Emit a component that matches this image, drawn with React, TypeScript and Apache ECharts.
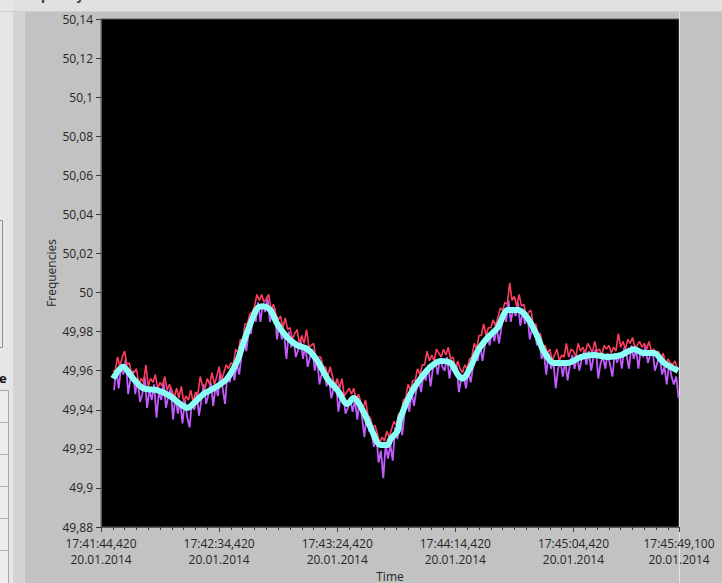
import React, { useEffect, useRef } from "react";
import * as echarts from "echarts";

// ---- axis / label data ----
const chartTitle = "Frequency Chart";
const startClockSec = 17 * 3600 + 41 * 60 + 44.42; // 17:41:44,420
const dateLabel = "20.01.2014";
const timeSpanSec = 244.68; // ends 17:45:49,100
const majorStepSec = 50;
const freqMin = 49.88;
const freqMax = 50.14;
const freqStep = 0.02;
const xAxisName = "Time";
const yAxisName = "Frequencies";

// ---- smoothed (cyan) trace ----
const cyanTimeSec = [
  5.1, 9.3, 13.6, 17.8, 23.7, 29.3, 33.5, 36.5, 39.0, 43.3,
  49.2, 53.4, 57.7, 60.2, 63.2, 66.2, 68.7, 71.7, 74.6, 78.9,
  83.1, 87.4, 91.6, 95.8, 100.1, 104.3, 106.9, 111.1, 114.1, 118.3,
  121.3, 122.6, 125.5, 126.8, 131.0, 135.3, 139.5, 143.8, 148.0, 151.0,
  153.1, 156.5, 159.4, 163.7, 167.9, 172.2, 176.4, 180.6, 184.9, 187.4,
  191.7, 197.6, 203.1, 208.6, 214.6, 220.1, 225.6, 229.8, 234.1, 238.3,
  244.3,
];
const cyanFreq = [
  49.956, 49.962, 49.956, 49.951, 49.95, 49.947, 49.943, 49.941, 49.943, 49.948,
  49.952, 49.956, 49.965, 49.974, 49.984, 49.992, 49.993, 49.991, 49.984, 49.977,
  49.973, 49.971, 49.965, 49.956, 49.95, 49.943, 49.946, 49.939, 49.931, 49.922,
  49.922, 49.925, 49.929, 49.936, 49.948, 49.956, 49.962, 49.965, 49.964, 49.958,
  49.956, 49.962, 49.97, 49.977, 49.982, 49.991, 49.991, 49.987, 49.977, 49.97,
  49.964, 49.964, 49.967, 49.968, 49.967, 49.968, 49.971, 49.969, 49.969, 49.964,
  49.96,
];

// ---- raw noisy traces, one sample per second ----
const sampleStepSec = 1;
const redStartSec = 5;
const redFreq = [
  49.960, 49.960, 49.967, 49.962, 49.967, 49.970, 49.963, 49.964, 49.958, 49.959,
  49.961, 49.953, 49.956, 49.954, 49.963, 49.952, 49.956, 49.954, 49.958, 49.951,
  49.954, 49.952, 49.957, 49.950, 49.953, 49.950, 49.946, 49.951, 49.946, 49.952,
  49.944, 49.947, 49.945, 49.950, 49.944, 49.949, 49.948, 49.957, 49.952, 49.951,
  49.956, 49.953, 49.959, 49.953, 49.957, 49.962, 49.955, 49.959, 49.963, 49.961,
  49.964, 49.963, 49.971, 49.969, 49.976, 49.975, 49.984, 49.984, 49.989, 49.990,
  49.993, 49.999, 49.996, 49.999, 49.995, 49.997, 49.999, 49.991, 49.994, 49.989,
  49.986, 49.988, 49.982, 49.987, 49.981, 49.982, 49.976, 49.979, 49.981, 49.974,
  49.978, 49.974, 49.981, 49.972, 49.973, 49.974, 49.966, 49.967, 49.967, 49.962,
  49.962, 49.957, 49.962, 49.957, 49.952, 49.956, 49.951, 49.956, 49.947, 49.949,
  49.951, 49.948, 49.951, 49.945, 49.948, 49.944, 49.941, 49.945, 49.937, 49.936,
  49.931, 49.932, 49.928, 49.923, 49.926, 49.924, 49.929, 49.926, 49.930, 49.934,
  49.932, 49.938, 49.937, 49.945, 49.946, 49.953, 49.950, 49.955, 49.955, 49.961,
  49.958, 49.963, 49.963, 49.970, 49.965, 49.968, 49.965, 49.971, 49.969, 49.967,
  49.971, 49.968, 49.972, 49.966, 49.967, 49.961, 49.965, 49.961, 49.959, 49.963,
  49.961, 49.966, 49.967, 49.974, 49.971, 49.978, 49.978, 49.984, 49.978, 49.982,
  49.982, 49.986, 49.983, 49.987, 49.992, 49.991, 49.995, 49.994, 50.005, 49.996,
  49.998, 49.993, 49.999, 49.993, 49.994, 49.988, 49.990, 49.991, 49.983, 49.984,
  49.979, 49.979, 49.972, 49.973, 49.969, 49.971, 49.965, 49.968, 49.971, 49.965,
  49.968, 49.967, 49.974, 49.967, 49.971, 49.970, 49.967, 49.974, 49.970, 49.972,
  49.969, 49.974, 49.972, 49.969, 49.975, 49.970, 49.971, 49.968, 49.973, 49.971,
  49.973, 49.969, 49.972, 49.970, 49.979, 49.972, 49.975, 49.971, 49.976, 49.974,
  49.977, 49.972, 49.973, 49.975, 49.972, 49.974, 49.971, 49.975, 49.970, 49.971,
  49.969, 49.970, 49.966, 49.969, 49.963, 49.966, 49.964, 49.963, 49.965, 49.961,
];
const purpleStartSec = 5.5;
const purpleFreq = [
  49.950, 49.961, 49.951, 49.962, 49.958, 49.966, 49.948, 49.956, 49.960, 49.948,
  49.956, 49.944, 49.948, 49.957, 49.941, 49.950, 49.945, 49.953, 49.936, 49.949,
  49.945, 49.954, 49.941, 49.947, 49.951, 49.935, 49.947, 49.938, 49.944, 49.933,
  49.945, 49.936, 49.931, 49.944, 49.940, 49.948, 49.937, 49.945, 49.953, 49.943,
  49.948, 49.954, 49.942, 49.952, 49.947, 49.959, 49.951, 49.943, 49.958, 49.954,
  49.962, 49.955, 49.964, 49.958, 49.968, 49.978, 49.970, 49.980, 49.979, 49.989,
  49.985, 49.995, 49.985, 49.994, 49.990, 49.997, 49.985, 49.989, 49.992, 49.976,
  49.985, 49.976, 49.979, 49.966, 49.980, 49.972, 49.976, 49.967, 49.971, 49.976,
  49.966, 49.973, 49.962, 49.967, 49.971, 49.960, 49.966, 49.953, 49.959, 49.961,
  49.952, 49.956, 49.946, 49.951, 49.954, 49.939, 49.947, 49.949, 49.938, 49.941,
  49.946, 49.939, 49.945, 49.935, 49.945, 49.936, 49.926, 49.938, 49.929, 49.929,
  49.921, 49.928, 49.913, 49.919, 49.905, 49.922, 49.915, 49.922, 49.914, 49.931,
  49.925, 49.935, 49.927, 49.938, 49.945, 49.939, 49.949, 49.942, 49.950, 49.956,
  49.949, 49.958, 49.955, 49.963, 49.952, 49.961, 49.966, 49.958, 49.966, 49.962,
  49.960, 49.967, 49.956, 49.964, 49.959, 49.963, 49.949, 49.956, 49.958, 49.951,
  49.960, 49.954, 49.962, 49.970, 49.965, 49.973, 49.965, 49.973, 49.979, 49.973,
  49.981, 49.975, 49.982, 49.974, 49.982, 49.990, 49.985, 49.996, 49.985, 49.992,
  49.988, 49.995, 49.983, 49.990, 49.984, 49.989, 49.976, 49.982, 49.983, 49.973,
  49.977, 49.966, 49.969, 49.958, 49.969, 49.961, 49.965, 49.951, 49.961, 49.965,
  49.957, 49.965, 49.955, 49.963, 49.968, 49.961, 49.968, 49.960, 49.966, 49.970,
  49.963, 49.970, 49.960, 49.967, 49.971, 49.956, 49.964, 49.967, 49.961, 49.969,
  49.963, 49.957, 49.969, 49.964, 49.969, 49.961, 49.972, 49.968, 49.961, 49.973,
  49.966, 49.971, 49.961, 49.971, 49.967, 49.973, 49.964, 49.968, 49.970, 49.960,
  49.964, 49.968, 49.958, 49.962, 49.953, 49.964, 49.957, 49.953, 49.957, 49.946,
];

// ---- helpers ----
const pad = (n: number, w: number) => String(n).padStart(w, "0");
function clockLabel(sec: number): string {
  const totalMs = Math.round((startClockSec + sec) * 1000);
  const h = Math.floor(totalMs / 3600000);
  const m = Math.floor((totalMs % 3600000) / 60000);
  const s = Math.floor((totalMs % 60000) / 1000);
  const ms = totalMs % 1000;
  return `${pad(h, 2)}:${pad(m, 2)}:${pad(s, 2)},${pad(ms, 3)}\n${dateLabel}`;
}
function freqLabel(v: number): string {
  return String(Math.round(v * 100) / 100).replace(".", ",");
}
const sampled = (start: number, vals: number[]) =>
  vals.map((v, i) => [start + i * sampleStepSec, v]);

const FONT = "'Open Sans', 'Noto Sans', 'DejaVu Sans', sans-serif";
const LABEL = "#262626";

export default function App() {
  const ref = useRef<HTMLDivElement>(null);
  useEffect(() => {
    document.body.style.margin = "0";
    const chart = echarts.init(ref.current!, null, { renderer: "svg" });
    const tableLines = [422, 454, 486, 518, 550].map((y) => ({
      type: "line",
      shape: { x1: 0, y1: y + 0.5, x2: 8, y2: y + 0.5 },
      style: { stroke: "#b4b4b4", lineWidth: 1 },
    }));
    chart.setOption({
      animation: false,
      backgroundColor: "#c2c2c2",
      textStyle: { fontFamily: FONT },
      grid: {
        left: 101,
        right: 43,
        top: 19,
        bottom: 56,
        outerBoundsMode: "none",
        containLabel: false,
        show: true,
        backgroundColor: "#000000",
        borderColor: "#5a5a5a",
        borderWidth: 1,
      },
      graphic: [
        { type: "rect", shape: { x: 0, y: 0, width: 722, height: 11 }, style: { fill: "#e1e1e1" }, silent: true },
        { type: "rect", shape: { x: 0, y: 0, width: 13, height: 583 }, style: { fill: "#e6e6e6" }, silent: true },
        { type: "rect", shape: { x: 13, y: 11, width: 12, height: 572 }, style: { fill: "#d4d4d4" }, silent: true },
        { type: "line", shape: { x1: 0, y1: 11.5, x2: 722, y2: 11.5 }, style: { stroke: "#cfcfcf", lineWidth: 1 }, silent: true },
        { type: "line", shape: { x1: 679.5, y1: 12, x2: 679.5, y2: 583 }, style: { stroke: "#e4e4e4", lineWidth: 1 }, silent: true },
        { type: "rect", shape: { x: -10, y: 220.5, width: 12.5, height: 127 }, style: { fill: "#e9e9e9", stroke: "#8e8e8e", lineWidth: 1 }, silent: true },
        { type: "rect", shape: { x: -10, y: 390.5, width: 18.5, height: 200 }, style: { fill: "#ededed", stroke: "#a8a8a8", lineWidth: 1 }, silent: true },
        ...tableLines,
        {
          type: "text",
          x: -1,
          y: 378,
          style: { text: "e", fontSize: 13, fontWeight: "bold", fill: "#111", verticalAlign: "middle", fontFamily: FONT },
          silent: true,
        },
        {
          type: "text",
          x: 16,
          y: 1,
          style: { text: chartTitle, fontSize: 13, fontWeight: "bold", fill: "#333", verticalAlign: "bottom", fontFamily: FONT },
          silent: true,
        },
      ],
      xAxis: {
        type: "value",
        min: 0,
        max: timeSpanSec,
        interval: majorStepSec,
        name: xAxisName,
        nameLocation: "middle",
        nameGap: 43,
        nameMoveOverlap: false,
        nameTextStyle: { color: LABEL, fontSize: 12, fontFamily: FONT },
        axisLine: { show: true, onZero: false, lineStyle: { color: "#5a5a5a" } },
        axisTick: { show: true, length: 5, lineStyle: { color: "#3a3a3a" } },
        minorTick: { show: true, splitNumber: 10, length: 3, lineStyle: { color: "#3a3a3a" } },
        splitLine: { show: false },
        minorSplitLine: { show: false },
        axisLabel: {
          formatter: clockLabel,
          color: LABEL,
          fontSize: 12,
          lineHeight: 16,
          margin: 8,
          showMinLabel: true,
          showMaxLabel: true,
          hideOverlap: false,
          fontFamily: FONT,
        },
      },
      yAxis: {
        type: "value",
        min: freqMin,
        max: freqMax,
        interval: freqStep,
        name: yAxisName,
        nameLocation: "middle",
        nameGap: 44,
        nameMoveOverlap: false,
        nameTextStyle: { color: LABEL, fontSize: 12, fontFamily: FONT },
        axisLine: { show: true, onZero: false, lineStyle: { color: "#5a5a5a" } },
        axisTick: { show: true, length: 5, lineStyle: { color: "#3a3a3a" } },
        splitLine: { show: false },
        axisLabel: { formatter: freqLabel, color: LABEL, fontSize: 12, margin: 8, fontFamily: FONT },
      },
      series: [
        {
          type: "line",
          data: sampled(purpleStartSec, purpleFreq),
          showSymbol: false,
          lineStyle: { color: "#c25cff", width: 1.8 },
          z: 2,
        },
        {
          type: "line",
          data: sampled(redStartSec, redFreq),
          showSymbol: false,
          lineStyle: { color: "#ff3d5e", width: 1.6 },
          z: 3,
        },
        {
          type: "line",
          data: cyanTimeSec.map((t, i) => [t, cyanFreq[i]]),
          showSymbol: false,
          smooth: 0.3,
          lineStyle: { color: "#8cfff6", width: 6 },
          z: 4,
        },
      ],
    });
    return () => chart.dispose();
  }, []);
  return <div ref={ref} style={{ width: 722, height: 583 }} />;
}
